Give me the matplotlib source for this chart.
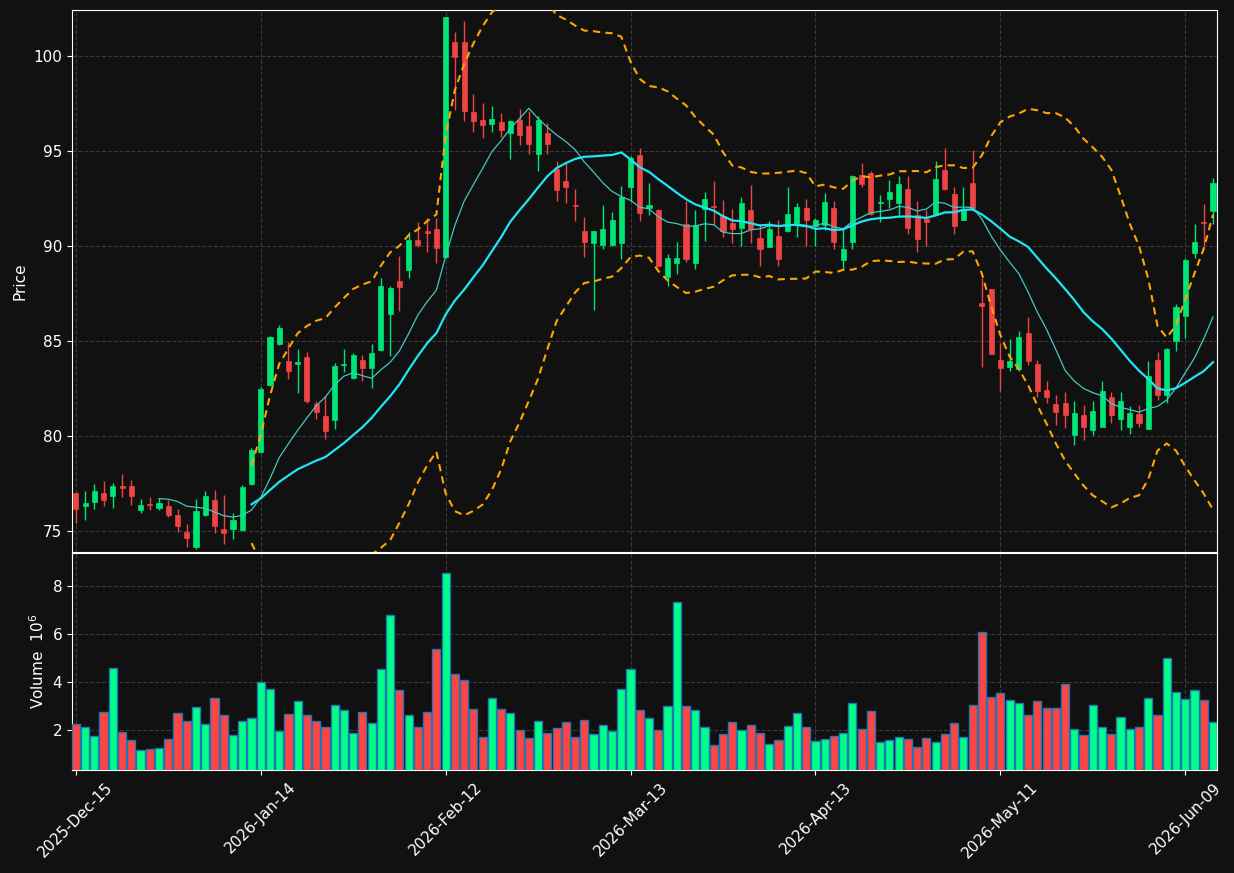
import numpy as np
import pandas as pd
import matplotlib
matplotlib.use("Agg")
import matplotlib.pyplot as plt

# trading days (NYSE calendar)
holidays = ['2025-12-25', '2026-01-01', '2026-01-19', '2026-02-16', '2026-04-03', '2026-05-25']
dates = pd.bdate_range('2025-12-15', periods=124, freq='C', holidays=holidays)

opens = [77.00, 76.33, 76.55, 77.00, 76.86, 77.37, 77.37, 76.09, 76.45, 76.24,
         76.31, 75.85, 74.95, 74.18, 75.87, 76.64, 75.10, 75.12, 75.06, 77.45,
         79.17, 82.68, 84.84, 83.96, 83.78, 84.18, 81.67, 81.03, 80.85, 83.74,
         83.04, 84.01, 83.59, 84.51, 86.39, 88.17, 88.71, 90.32, 90.80, 90.91,
         89.41, 100.70, 100.70, 97.04, 96.60, 96.43, 96.49, 95.92, 96.62, 96.32,
         94.81, 95.96, 94.02, 93.43, 92.17, 90.76, 90.14, 90.07, 90.07, 90.14,
         93.07, 94.80, 92.01, 91.86, 88.38, 89.08, 91.16, 89.08, 91.93, 92.12,
         91.55, 91.18, 90.96, 91.91, 90.43, 89.96, 90.54, 90.80, 91.18, 92.01,
         91.06, 91.12, 92.01, 89.26, 90.21, 93.73, 93.84, 92.25, 92.48, 92.25,
         93.01, 91.64, 91.40, 91.70, 93.98, 92.74, 91.35, 93.32, 87.01, 87.74,
         84.01, 83.65, 83.50, 85.42, 83.78, 82.40, 81.67, 81.73, 80.03, 81.12,
         80.30, 80.45, 82.04, 80.90, 80.45, 81.18, 80.35, 84.01, 82.18, 85.00,
         86.30, 89.63, 91.27, 91.82]
highs = [77.05, 77.09, 77.46, 77.63, 77.55, 77.99, 77.68, 76.67, 76.78, 76.73,
         76.64, 76.14, 75.36, 76.68, 77.09, 77.17, 76.90, 75.97, 77.43, 79.35,
         82.59, 85.28, 85.84, 84.96, 84.56, 84.42, 81.85, 82.09, 83.83, 84.56,
         84.38, 84.27, 84.84, 88.31, 87.89, 89.48, 90.73, 91.24, 91.46, 91.49,
         102.05, 101.24, 101.83, 98.01, 97.53, 97.37, 97.00, 96.62, 97.20, 97.07,
         96.85, 96.47, 94.44, 94.38, 93.01, 91.51, 90.80, 92.15, 91.79, 93.16,
         94.71, 95.15, 93.32, 91.93, 89.57, 90.21, 92.34, 91.86, 92.85, 93.42,
         92.41, 91.95, 92.59, 93.20, 91.13, 91.33, 91.37, 93.11, 92.23, 92.46,
         91.49, 92.76, 92.34, 90.91, 93.74, 94.33, 93.93, 92.65, 93.47, 93.69,
         93.65, 92.34, 91.86, 94.44, 95.15, 93.10, 93.10, 95.02, 88.31, 87.74,
         84.87, 85.09, 85.51, 86.28, 84.01, 82.90, 82.13, 82.31, 81.85, 81.65,
         81.85, 82.90, 82.31, 82.31, 81.58, 81.62, 83.96, 84.42, 84.65, 86.92,
         89.35, 91.13, 92.19, 93.56]
lows = [75.45, 75.58, 76.18, 76.31, 76.24, 76.77, 76.36, 75.94, 76.09, 76.13,
        75.76, 74.95, 74.18, 74.08, 75.80, 74.90, 74.33, 74.57, 74.99, 77.41,
        79.11, 82.62, 84.78, 82.99, 82.26, 81.76, 80.89, 79.84, 80.35, 83.37,
        83.01, 82.90, 82.53, 84.45, 84.20, 86.57, 88.31, 89.96, 89.68, 89.08,
        89.35, 97.13, 96.58, 95.99, 95.66, 95.98, 95.70, 94.57, 95.30, 94.84,
        93.93, 94.84, 92.34, 92.24, 91.31, 89.41, 86.65, 89.85, 90.00, 89.32,
        92.37, 91.31, 91.64, 88.90, 87.89, 88.53, 89.15, 88.80, 90.27, 91.09,
        90.45, 90.14, 89.99, 90.14, 88.93, 89.96, 88.93, 90.75, 90.45, 89.99,
        89.99, 90.84, 89.85, 88.80, 89.85, 93.10, 91.64, 91.27, 92.01, 91.64,
        90.63, 89.68, 89.99, 91.64, 92.96, 90.63, 91.35, 92.01, 83.63, 84.32,
        82.35, 83.41, 83.41, 83.74, 82.04, 81.76, 80.57, 80.43, 79.53, 79.79,
        80.03, 80.45, 80.67, 80.30, 80.08, 80.48, 80.35, 81.91, 81.76, 84.45,
        85.15, 89.35, 90.00, 91.15]
closes = [76.18, 76.49, 77.09, 76.64, 77.37, 77.28, 76.82, 76.36, 76.36, 76.49,
          75.87, 75.27, 74.62, 76.08, 76.86, 75.27, 74.92, 75.60, 77.31, 79.28,
          82.46, 85.18, 85.70, 83.41, 83.87, 81.85, 81.25, 80.25, 83.70, 83.81,
          84.27, 83.59, 84.36, 87.89, 87.80, 87.85, 90.32, 90.07, 90.67, 89.90,
          102.03, 99.91, 97.07, 96.54, 96.34, 96.69, 96.07, 96.54, 95.85, 95.34,
          96.60, 95.37, 92.96, 93.10, 92.12, 90.18, 90.76, 90.87, 91.35, 92.59,
          94.64, 91.71, 92.15, 88.93, 89.34, 89.37, 89.30, 91.09, 92.48, 92.06,
          90.78, 90.91, 92.23, 90.87, 89.85, 90.91, 89.33, 91.70, 92.06, 91.38,
          91.38, 92.32, 90.21, 89.81, 93.69, 93.25, 91.68, 92.30, 92.85, 93.23,
          90.96, 90.34, 91.24, 93.51, 93.01, 91.06, 91.91, 92.01, 86.85, 84.32,
          83.56, 83.96, 85.18, 83.92, 82.35, 82.04, 81.25, 81.09, 81.21, 80.45,
          81.31, 82.37, 81.12, 81.85, 81.21, 80.70, 83.17, 82.18, 84.60, 86.79,
          89.26, 90.18, 91.20, 93.32]
volumes = [2.25, 2.13, 1.75, 2.75, 4.58, 1.92, 1.58, 1.17, 1.21, 1.25,
           1.63, 2.71, 2.38, 2.96, 2.25, 3.33, 2.63, 1.79, 2.38, 2.50,
           4.00, 3.71, 1.96, 2.67, 3.21, 2.63, 2.38, 2.13, 3.04, 2.83,
           1.88, 2.75, 2.29, 4.54, 6.79, 3.67, 2.63, 2.13, 2.75, 5.38,
           8.54, 4.33, 4.08, 2.88, 1.71, 3.33, 2.88, 2.71, 2.00, 1.67,
           2.38, 1.88, 2.08, 2.33, 1.71, 2.42, 1.83, 2.21, 1.96, 3.71,
           4.54, 2.83, 2.50, 2.00, 3.00, 7.33, 3.00, 2.83, 2.13, 1.38,
           1.83, 2.33, 2.00, 2.21, 1.88, 1.42, 1.58, 2.17, 2.71, 2.13,
           1.54, 1.63, 1.75, 1.88, 3.13, 2.04, 2.79, 1.50, 1.58, 1.71,
           1.63, 1.29, 1.67, 1.50, 1.83, 2.29, 1.71, 3.04, 6.08, 3.38,
           3.54, 3.25, 3.13, 2.63, 3.21, 2.92, 2.92, 3.92, 2.04, 1.79,
           3.04, 2.13, 1.83, 2.54, 2.04, 2.13, 3.33, 2.63, 5.00, 3.58,
           3.29, 3.67, 3.25, 2.33]

df = pd.DataFrame({'Open': opens, 'High': highs, 'Low': lows, 'Close': closes,
                   'Volume': np.array(volumes) * 1e6}, index=dates)
df['MA10'] = df['Close'].rolling(10).mean()
df['MA20'] = df['Close'].rolling(20).mean()
std20 = df['Close'].rolling(20).std(ddof=0)
df['BB_up'] = df['MA20'] + 2 * std20
df['BB_dn'] = df['MA20'] - 2 * std20

bg = '#111111'
up_c, dn_c = '#00e676', '#ef4444'
vup_c, vdn_c = '#00ff88', '#ff4444'

fig = plt.figure(figsize=(12.34, 8.73), dpi=100, facecolor=bg)
ax = fig.add_axes([0.0583, 0.3677, 0.9279, 0.6208])
axv = fig.add_axes([0.0583, 0.1180, 0.9279, 0.2486], sharex=ax)

x = np.arange(len(df))
up = df['Close'] >= df['Open']
colors = np.where(up, up_c, dn_c)
body_lo = np.minimum(df['Open'], df['Close'])
body_h = np.maximum(np.abs(df['Close'] - df['Open']), 0.05)

ax.vlines(x, df['Low'], df['High'], colors=colors, linewidth=1, zorder=2)
ax.bar(x, body_h, bottom=body_lo, width=0.55, color=colors, edgecolor=colors,
       linewidth=0.5, zorder=3)

ax.plot(x, df['MA10'], color='#3fc9c2', linewidth=0.9, zorder=4)
ax.plot(x, df['MA20'], color='#1ee6f5', linewidth=1.6, zorder=4)
ax.plot(x, df['BB_up'], color='#ffa500', linewidth=1.5, linestyle=(0, (3.5, 2.5)), zorder=4)
ax.plot(x, df['BB_dn'], color='#ffa500', linewidth=1.5, linestyle=(0, (3.5, 2.5)), zorder=4)

vcolors = np.where(up, vup_c, vdn_c)
axv.bar(x, df['Volume'] / 1e6, width=0.88, color=vcolors, edgecolor='#1f77b4',
        linewidth=1, zorder=3)

ax.set_xlim(-0.42, 123.43)
ax.set_ylim(73.9, 102.4)
axv.set_ylim(0.35, 9.375)
ax.set_yticks([75, 80, 85, 90, 95, 100])
axv.set_yticks([2, 4, 6, 8])

ticks = x[::20]
axv.set_xticks(ticks)
axv.set_xticklabels([d.strftime('%Y-%b-%d') for d in df.index[ticks]], rotation=45)
plt.setp(ax.get_xticklabels(), visible=False)

for a in (ax, axv):
    a.set_facecolor(bg)
    a.grid(True, color='#3a3a3a', linestyle='--', linewidth=0.8)
    a.set_axisbelow(True)
    for s in a.spines.values():
        s.set_color('white')
    a.tick_params(colors='white', labelsize=11)

ax.set_ylabel('Price', color='white', fontsize=11)
axv.set_ylabel('Volume  $10^{6}$', color='white', fontsize=11)

fig.savefig('out.png', dpi=100, facecolor=bg)
